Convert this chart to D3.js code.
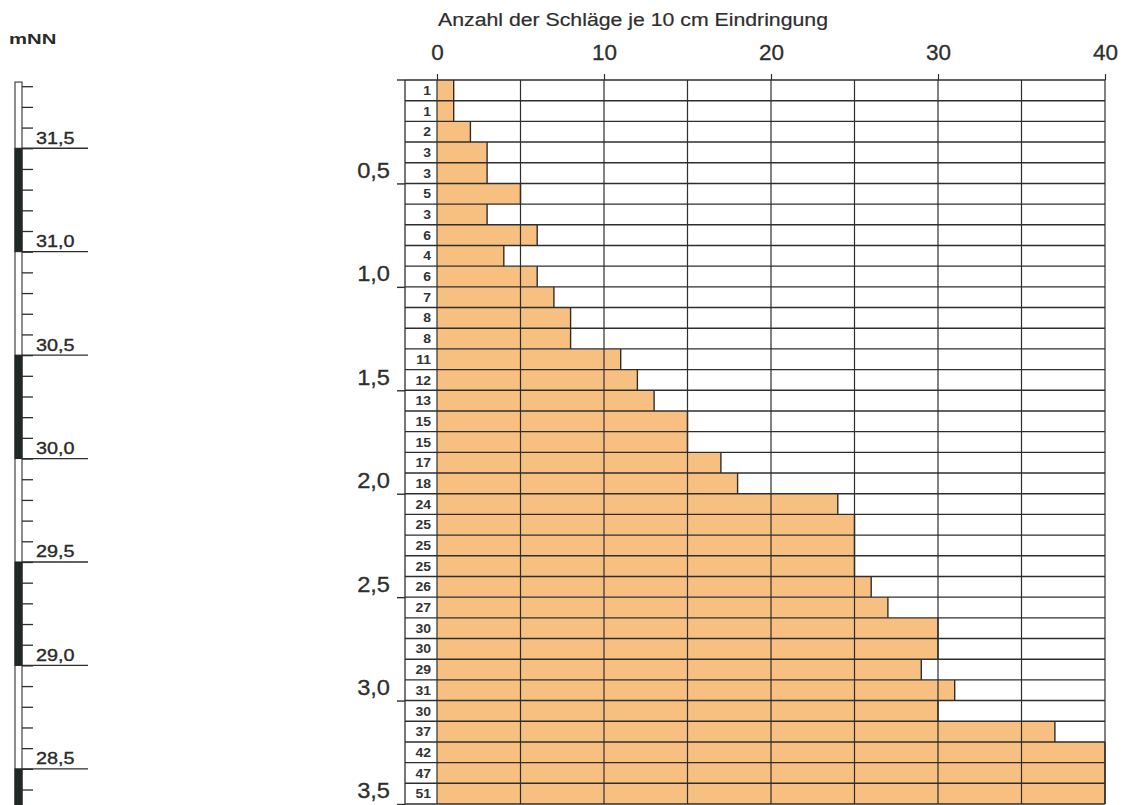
<!DOCTYPE html>
<html>
<head>
<meta charset="utf-8">
<script src="https://cdn.jsdelivr.net/npm/d3@7"></script>
<style>
  html, body { margin: 0; padding: 0; background: #fff; }
  svg { display: block; font-family: "Liberation Sans", Arial, Helvetica, sans-serif; }
</style>
</head>
<body>
<svg id="chart" width="1126" height="805"></svg>
<script>
// Rammsondierung: Schlagzahlen je 10 cm Eindringung (top to bottom)
const blows = [1, 1, 2, 3, 3, 5, 3, 6, 4, 6, 7, 8, 8, 11, 12, 13, 15, 15, 17, 18,
               24, 25, 25, 25, 26, 27, 30, 30, 29, 31, 30, 37, 42, 47, 51];
const blowTicks = [0, 10, 20, 30, 40];
const blowGrid = [0, 5, 10, 15, 20, 25, 30, 35, 40];
const depthTicks = [0.5, 1.0, 1.5, 2.0, 2.5, 3.0, 3.5];
const elevationLabels = [31.5, 31.0, 30.5, 30.0, 29.5, 29.0, 28.5];
const elevationBands = [[31.5, 31.0], [30.5, 30.0], [29.5, 29.0], [28.5, 28.0]];
const groundLevel = 31.83;   // mNN at depth 0
const rodTop = 31.82;
const stepDepth = 0.1;       // 10 cm per row
const maxDepth = 3.5;
const titleText = "Anzahl der Schläge je 10 cm Eindringung";

const ink = "#2e2e2e";
const barFill = "#f7c081";
const bandFill = "#1d2a27";

const svg = d3.select("#chart");
const fmtComma = d => d3.format(".1f")(d).replace(".", ",");

// scales
const x = d3.scaleLinear().domain([0, 40]).range([437, 1105]);
const y = d3.scaleLinear().domain([0, maxDepth]).range([80, 804]);
const yElev = d3.scaleLinear().domain([groundLevel, groundLevel - maxDepth]).range([80, 804]);
const labelColLeft = 405;

// horizontally stretched text
function stretchText(g, str, px, py, size, sx, opts = {}) {
  return g.append("text")
    .attr("transform", `translate(${px},${py}) scale(${sx},1)`)
    .attr("text-anchor", opts.anchor || "start")
    .attr("font-size", size)
    .attr("font-weight", opts.weight || "normal")
    .attr("fill", opts.fill || ink)
    .attr("stroke", opts.stroke || "none")
    .attr("stroke-width", opts.strokeWidth || 0)
    .text(str);
}

// ---------- bars ----------
const rows = blows.map((v, i) => ({ v, d0: i * stepDepth, d1: (i + 1) * stepDepth }));
const barG = svg.append("g");
barG.selectAll("rect.bar").data(rows).join("rect")
  .attr("class", "bar")
  .attr("x", x(0))
  .attr("y", d => y(d.d0))
  .attr("width", d => x(Math.min(d.v, 40)) - x(0))
  .attr("height", d => y(d.d1) - y(d.d0))
  .attr("fill", barFill);

// ---------- grid ----------
const gridG = svg.append("g").attr("stroke", ink).attr("fill", "none");
gridG.selectAll("line.v").data(blowGrid).join("line")
  .attr("x1", d => x(d)).attr("x2", d => x(d))
  .attr("y1", y(0)).attr("y2", y(maxDepth))
  .attr("stroke-width", 1.2);

const rowEdges = d3.range(0, blows.length + 1).map(i => i * stepDepth);
gridG.selectAll("line.h").data(rowEdges).join("line")
  .attr("x1", labelColLeft).attr("x2", x(40))
  .attr("y1", d => y(d)).attr("y2", d => y(d))
  .attr("stroke-width", 1.4);

// label column border
gridG.append("line")
  .attr("x1", labelColLeft).attr("x2", labelColLeft)
  .attr("y1", y(0)).attr("y2", y(maxDepth))
  .attr("stroke-width", 1.3);
gridG.append("line")
  .attr("x1", labelColLeft - 8).attr("x2", labelColLeft)
  .attr("y1", y(0)).attr("y2", y(0))
  .attr("stroke-width", 1.4);

// bar end edges
barG.selectAll("line.edge").data(rows).join("line")
  .attr("x1", d => x(Math.min(d.v, 40))).attr("x2", d => x(Math.min(d.v, 40)))
  .attr("y1", d => y(d.d0)).attr("y2", d => y(d.d1))
  .attr("stroke", ink).attr("stroke-width", 1.4);

// row values in the label column
const valG = svg.append("g");
rows.forEach(d => {
  stretchText(valG, d.v, 431, (y(d.d0) + y(d.d1)) / 2 + 4.6, 12.5, 1.12,
    { anchor: "end", weight: "bold", fill: "#333" });
});

// ---------- top axis ----------
const topAxis = svg.append("g")
  .attr("transform", `translate(0,${y(0)})`)
  .call(d3.axisTop(x).tickValues(blowTicks).tickSize(6).tickPadding(14));
topAxis.select(".domain").remove();
topAxis.selectAll(".tick line").attr("stroke", ink).attr("stroke-width", 1.2);
topAxis.selectAll(".tick text")
  .attr("font-size", 22.5).attr("fill", ink)
  .attr("stroke", ink).attr("stroke-width", 0.3)
  .attr("font-family", "'Liberation Sans', Arial, sans-serif");

stretchText(svg, titleText, 438, 26, 17.5, 1.0, { stroke: ink, strokeWidth: 0.2 })
  .attr("textLength", 390).attr("lengthAdjust", "spacingAndGlyphs");

// ---------- depth axis ----------
const depthAxis = svg.append("g")
  .attr("transform", `translate(${labelColLeft},0)`)
  .call(d3.axisLeft(y).tickValues(depthTicks).tickSize(8).tickPadding(7).tickFormat(fmtComma));
depthAxis.select(".domain").remove();
depthAxis.selectAll(".tick line").attr("stroke", ink).attr("stroke-width", 1.4);
depthAxis.selectAll(".tick text")
  .attr("font-size", 21.5).attr("fill", ink).attr("dy", "-0.28em")
  .attr("stroke", ink).attr("stroke-width", 0.3)
  .attr("transform", "scale(1.1,1)")
  .attr("x", -15 / 1.1)
  .attr("font-family", "'Liberation Sans', Arial, sans-serif");

// ---------- elevation rod (mNN) ----------
const rodX = 15, rodW = 7;
const rodBottom = groundLevel - maxDepth - 0.05;
const rodG = svg.append("g");
rodG.append("rect")
  .attr("x", rodX).attr("y", yElev(rodTop))
  .attr("width", rodW).attr("height", yElev(rodBottom) - yElev(rodTop))
  .attr("fill", "#fff").attr("stroke", "#444").attr("stroke-width", 1.2);
rodG.selectAll("rect.band").data(elevationBands).join("rect")
  .attr("class", "band")
  .attr("x", rodX).attr("y", d => yElev(d[0]))
  .attr("width", rodW).attr("height", d => yElev(d[1]) - yElev(d[0]))
  .attr("fill", bandFill).attr("stroke", "#222").attr("stroke-width", 1);

const elevAxis = rodG.append("g")
  .attr("transform", `translate(${rodX + rodW},0)`)
  .call(d3.axisRight(yElev)
    .tickValues(d3.range(318, 279, -1).map(v => v / 10))
    .tickSize(11).tickFormat(""));
elevAxis.select(".domain").remove();
elevAxis.selectAll(".tick line").attr("stroke", ink).attr("stroke-width", 1.3);

rodG.selectAll("line.major").data(elevationLabels).join("line")
  .attr("x1", rodX + rodW).attr("x2", 88)
  .attr("y1", d => yElev(d)).attr("y2", d => yElev(d))
  .attr("stroke", ink).attr("stroke-width", 1.3);
elevationLabels.forEach(e => {
  stretchText(rodG, fmtComma(e), 36, yElev(e) - 4.5, 16.5, 1.2,
    { fill: "#2a2a2a", stroke: "#2a2a2a", strokeWidth: 0.35 });
});

stretchText(svg, "mNN", 9, 44, 14, 1.45, { weight: "bold", fill: "#2a2a2a" });
</script>
</body>
</html>
